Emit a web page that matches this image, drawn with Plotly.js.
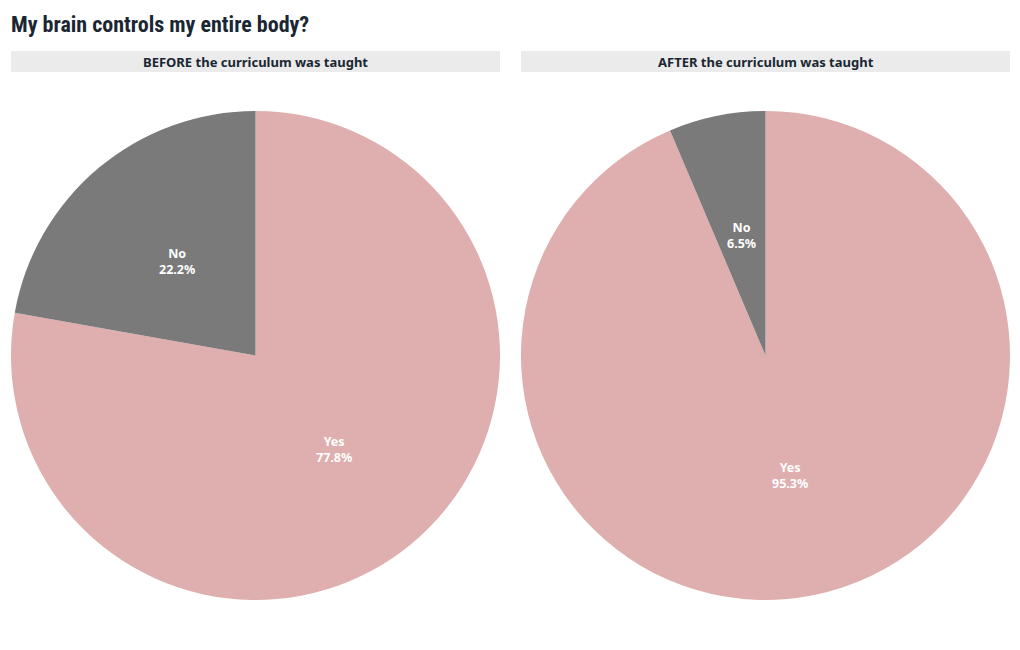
<!DOCTYPE html>
<html>
<head>
<meta charset="utf-8">
<script src="https://cdn.plot.ly/plotly-3.0.1.min.js"></script>
<style>html,body{margin:0;padding:0;background:#fff;}#chart{width:1020px;height:650px;}</style>
</head>
<body>
<div id="chart"></div>
<script>
const chartTitle = "My brain controls my entire body?";
const panelTitles = ["BEFORE the curriculum was taught", "AFTER the curriculum was taught"];
const categories = ["Yes", "No"];
const beforeValues = [77.8, 22.2];
const afterValues = [95.3, 6.5];
const sliceColors = ["#dfaeae", "#7a7a7a"];

const W = 1020, H = 650;
const px = v => v / W;
const py = v => 1 - v / H;

const domains = [
  {x: [px(11), px(500)], y: [py(600), py(111)]},
  {x: [px(521), px(1010)], y: [py(600), py(111)]}
];
const series = [beforeValues, afterValues];
const labelFont = {family: "'Noto Sans', Lato, sans-serif", size: 12.5, color: "#ffffff"};

const data = series.map((vals, i) => ({
  type: "pie",
  labels: categories,
  values: vals,
  sort: false,
  direction: "clockwise",
  rotation: 0,
  marker: {colors: sliceColors, line: {width: 0}},
  textinfo: "none",
  hoverinfo: "label+value",
  domain: domains[i],
  showlegend: false
}));

const shapes = domains.map(d => ({
  type: "rect", xref: "paper", yref: "paper",
  x0: d.x[0], x1: d.x[1], y0: py(72), y1: py(51),
  fillcolor: "#ebebeb", line: {width: 0}, layer: "below"
}));

const annotations = domains.map((d, i) => ({
  xref: "paper", yref: "paper",
  x: (d.x[0] + d.x[1]) / 2, y: py(61.5),
  xanchor: "center", yanchor: "middle",
  text: "<b>" + panelTitles[i] + "</b>",
  showarrow: false,
  font: {family: "'Noto Sans', Lato, sans-serif", size: 13, color: "#1a2733"}
}));

// slice labels at half radius along each slice's mid-angle (clockwise from 12 o'clock)
series.forEach((vals, i) => {
  const d = domains[i];
  const cxPx = (d.x[0] + d.x[1]) / 2 * W;
  const cyPx = (1 - (d.y[0] + d.y[1]) / 2) * H;
  const r = Math.min((d.x[1] - d.x[0]) * W, (d.y[1] - d.y[0]) * H) / 2;
  const total = vals.reduce((a, b) => a + b, 0);
  let start = 0;
  vals.forEach((v, j) => {
    const frac = v / total;
    const mid = (start + frac / 2) * 2 * Math.PI;
    start += frac;
    const lx = cxPx + Math.sin(mid) * r * 0.5;
    const ly = cyPx - Math.cos(mid) * r * 0.5;
    annotations.push({
      xref: "paper", yref: "paper", x: lx / W, y: py(ly),
      xanchor: "center", yanchor: "middle", showarrow: false,
      text: "<b>" + categories[j] + "</b><br><b>" + v.toFixed(1) + "%</b>",
      font: labelFont
    });
  });
});

const layout = {
  width: W, height: H,
  margin: {l: 0, r: 0, t: 0, b: 0},
  paper_bgcolor: "#ffffff",
  title: {
    text: "<b>" + chartTitle + "</b>",
    x: px(11), xanchor: "left", xref: "paper",
    y: py(24), yanchor: "middle", yref: "paper",
    font: {family: "'Roboto Condensed', 'DejaVu Sans Condensed', 'Liberation Sans Narrow', Roboto, sans-serif", size: 22, color: "#1a2733"}
  },
  shapes: shapes,
  annotations: annotations
};

Plotly.newPlot("chart", data, layout, {displayModeBar: false});
</script>
</body>
</html>
